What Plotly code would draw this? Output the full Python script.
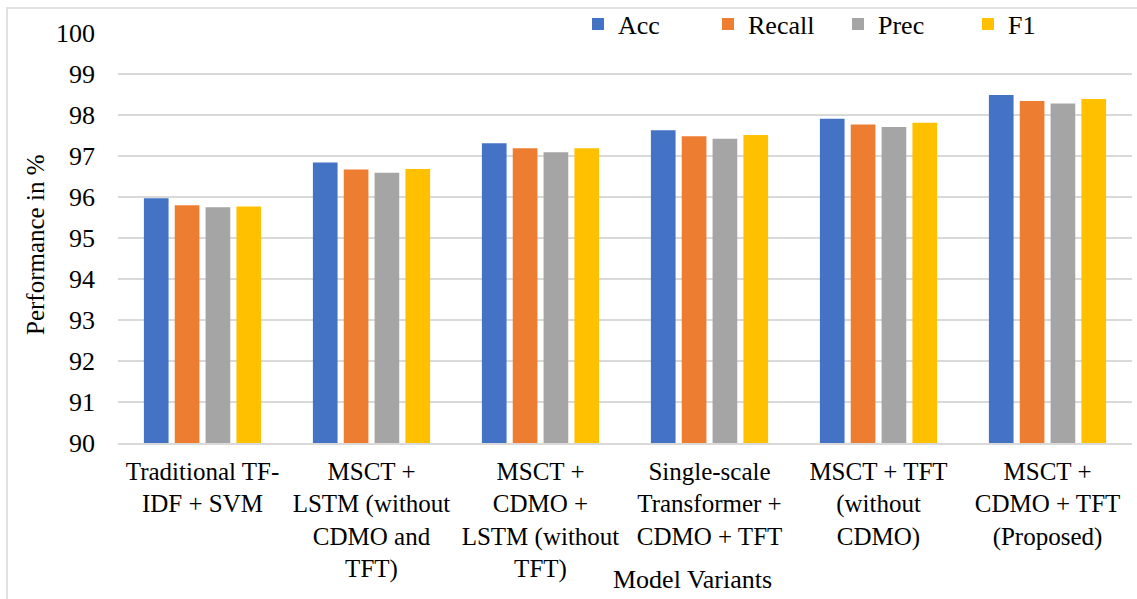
import plotly.graph_objects as go

categories = [
    "Traditional TF-<br>IDF + SVM",
    "MSCT +<br>LSTM (without<br>CDMO and<br>TFT)",
    "MSCT +<br>CDMO +<br>LSTM (without<br>TFT)",
    "Single-scale<br>Transformer +<br>CDMO + TFT",
    "MSCT + TFT<br>(without<br>CDMO)",
    "MSCT +<br>CDMO + TFT<br>(Proposed)",
]
acc = [95.97, 96.84, 97.31, 97.63, 97.91, 98.49]
recall = [95.80, 96.67, 97.19, 97.48, 97.77, 98.34]
prec = [95.75, 96.59, 97.09, 97.42, 97.71, 98.28]
f1 = [95.77, 96.68, 97.19, 97.51, 97.81, 98.39]

series = [("Acc", acc, "#4472C4"), ("Recall", recall, "#ED7D31"),
          ("Prec", prec, "#A5A5A5"), ("F1", f1, "#FFC000")]

FONT = "Liberation Serif, Times New Roman, serif"
fig = go.Figure()
for name, vals, col in series:
    fig.add_trace(go.Bar(x=categories, y=vals, name=name, marker_color=col,
                         marker_line_width=0))

L, R, T, B = 118, 5, 33, 156
W, H = 1137, 599
pw, ph = W - L - R, H - T - B

fig.update_layout(
    width=W, height=H,
    margin=dict(l=L, r=R, t=T, b=B, autoexpand=False),
    paper_bgcolor="white", plot_bgcolor="white",
    barmode="group", bargap=0.27, bargroupgap=0.2,
    font=dict(family=FONT, size=25, color="black"),
    showlegend=True,
    legend=dict(orientation="h", x=(578 - L) / pw, xanchor="left",
                y=1 + (T - 24) / ph, yanchor="middle",
                font=dict(family=FONT, size=26), entrywidth=85,
                itemwidth=30, bgcolor="rgba(0,0,0,0)", traceorder="normal"),
    xaxis=dict(showgrid=False, showline=True, linecolor="#D9D9D9", linewidth=1.5,
               ticks="", tickfont=dict(family=FONT, size=25), ticklabelstandoff=5,
               tickangle=0, automargin=False),
    yaxis=dict(range=[90, 100], dtick=1, showgrid=True, gridcolor="#D9D9D9",
               gridwidth=1.5, zeroline=False, showline=False, ticks="",
               tickfont=dict(family=FONT, size=26), ticklabelstandoff=22,
               automargin=False),
    annotations=[
        dict(text="Performance in %", textangle=-90, xref="paper", yref="paper",
             x=(35 - L) / pw, y=(H - B - 245) / ph, xanchor="center", yanchor="middle",
             showarrow=False, font=dict(family=FONT, size=25)),
        dict(text="Model Variants", xref="paper", yref="paper",
             x=(692 - L) / pw, y=-(579 - (H - B)) / ph, xanchor="center", yanchor="middle",
             showarrow=False, font=dict(family=FONT, size=26)),
    ],
    shapes=[dict(type="rect", xref="paper", yref="paper",
                 x0=(7 - L) / pw, x1=(W + 20 - L) / pw,
                 y0=-(H + 20 - (H - B)) / ph, y1=1 + (T - 8) / ph,
                 line=dict(color="#D9D9D9", width=1.5), layer="below")],
)

fig.write_html("out.html")
